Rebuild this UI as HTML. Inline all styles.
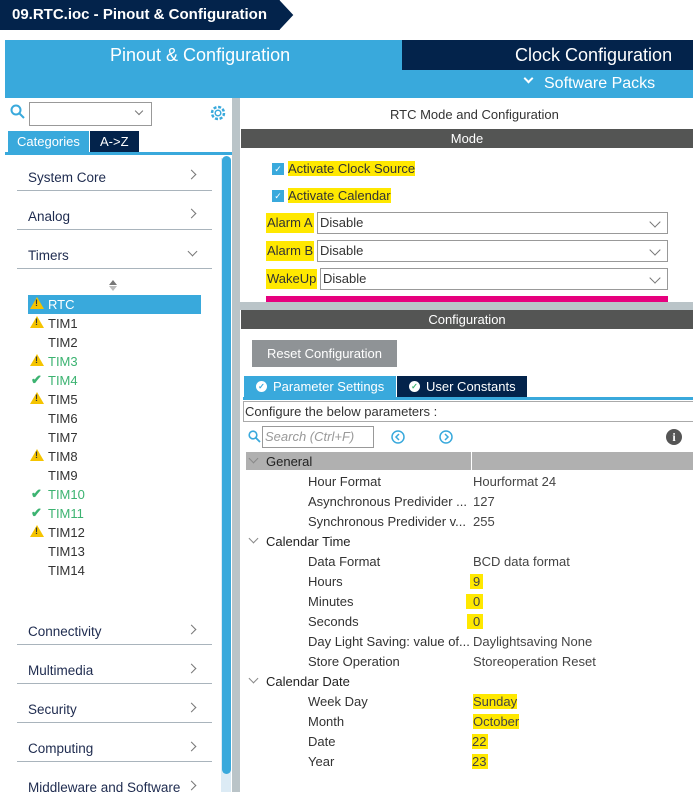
<!DOCTYPE html>
<html><head><meta charset="utf-8"><style>
*{margin:0;padding:0;box-sizing:border-box}
body{width:693px;height:792px;position:relative;overflow:hidden;background:#fff;font-family:"Liberation Sans",sans-serif;font-size:13px;color:#333}
.a{position:absolute;white-space:nowrap}
.cat{position:absolute;left:28px;font-size:13.5px;color:#1e2b4f}
.ln{position:absolute;left:17px;width:195px;height:1px;background:#a9b4bc}
.chev{position:absolute;left:188px;width:7px;height:7px;border-right:1.3px solid #777;border-top:1.3px solid #777;transform:rotate(45deg)}
.tim{position:absolute;left:48px;font-size:13px;color:#333}
.g{color:#3cb371}
.warn{position:absolute;left:30px;width:0;height:0;border-left:7px solid transparent;border-right:7px solid transparent;border-bottom:12px solid #f5c400}
.warn:after{content:"!";position:absolute;left:-2px;top:1px;font-size:9px;font-weight:bold;color:#333}
.ok{position:absolute;left:31px;color:#3cb371;font-size:13px;font-weight:bold}
.hl{background:#ffe800}
.lbl{position:absolute;left:308px;font-size:13px;color:#333}
.val{position:absolute;left:473px;font-size:13px;color:#444}
.sec{position:absolute;left:266px;font-size:13px;color:#222}
.sc{position:absolute;left:250px;width:7px;height:7px;border-right:1.2px solid #888;border-bottom:1.2px solid #888;transform:rotate(45deg)}
.sel{position:absolute;height:22px;border:1px solid #999;background:#fff;font-size:13px;padding:2px 2px;color:#333}
.sel:after{content:"";position:absolute;right:8px;top:5px;width:7px;height:7px;border-right:1.2px solid #777;border-bottom:1.2px solid #777;transform:rotate(45deg)}
.cb{position:absolute;left:272px;width:12px;height:12px;background:#39a9dc;color:#fff;font-size:9px;text-align:center;line-height:12px}
</style></head><body>
<!-- title -->
<div class="a" style="left:0;top:0;width:280px;height:30px;background:#03234b"></div>
<svg class="a" style="left:272px;top:0" width="22" height="30"><polygon points="0,0 8,0 22,15 8,30 0,30" fill="#03234b"/><polyline points="8,0 22,15 8,30" fill="none" stroke="#fff" stroke-width="1"/></svg>
<div class="a" style="left:12px;top:6px;color:#fff;font-size:15px;font-weight:bold">09.RTC.ioc - Pinout &amp; Configuration</div>
<!-- top band -->
<div class="a" style="left:5px;top:40px;width:688px;height:58px;background:#39a9dc"></div>
<div class="a" style="left:402px;top:40px;width:291px;height:30px;background:#03234b"></div>
<div class="a" style="left:110px;top:45px;color:#fff;font-size:18px">Pinout &amp; Configuration</div>
<div class="a" style="left:515px;top:45px;color:#fff;font-size:18px">Clock Configuration</div>
<div class="a" style="left:525px;top:75px;width:7px;height:7px;border-right:2px solid #fff;border-bottom:2px solid #fff;transform:rotate(45deg)"></div>
<div class="a" style="left:544px;top:75px;color:#fff;font-size:16px">Software Packs</div>
<!-- left panel -->
<div class="a" style="left:232px;top:98px;width:8px;height:694px;background:#bac4c8"></div>
<div class="a" style="left:0;top:98px;width:5px;height:694px;background:#fff"></div>
<svg class="a" style="left:10px;top:104px" width="16" height="16"><circle cx="6" cy="6" r="4.5" fill="none" stroke="#39a9dc" stroke-width="2"/><line x1="9.5" y1="9.5" x2="14" y2="14" stroke="#39a9dc" stroke-width="2"/></svg>
<div class="a" style="left:29px;top:102px;width:123px;height:24px;border:1px solid #999"></div>
<div class="a" style="left:136px;top:108px;width:6px;height:6px;border-right:1px solid #777;border-bottom:1px solid #777;transform:rotate(45deg)"></div>
<svg class="a" style="left:209px;top:104px" width="18" height="18"><circle cx="9" cy="9" r="6" fill="none" stroke="#39a9dc" stroke-width="2.5" stroke-dasharray="3 1.7"/><circle cx="9" cy="9" r="2.8" fill="none" stroke="#39a9dc" stroke-width="1.5"/></svg>
<div class="a" style="left:8px;top:131px;width:81px;height:21px;background:#39a9dc;color:#fff;font-size:13px;padding:3px 0 0 9px">Categories</div>
<div class="a" style="left:90px;top:131px;width:49px;height:21px;background:#03234b;color:#fff;font-size:13px;padding:3px 0 0 10px">A-&gt;Z</div>
<div class="a" style="left:5px;top:152px;width:227px;height:3px;background:#39a9dc"></div>
<div class="a" style="left:221px;top:158px;width:10px;height:634px;background:#dcebf5"></div>
<div class="a" style="left:222px;top:156px;width:9px;height:618px;background:#39a9dc;border-radius:5px"></div>
<div class="cat" style="top:170px">System Core</div><div class="chev" style="top:171px"></div><div class="ln" style="top:190px"></div>
<div class="cat" style="top:209px">Analog</div><div class="chev" style="top:210px"></div><div class="ln" style="top:229px"></div>
<div class="cat" style="top:248px">Timers</div><div class="a" style="left:189px;top:248px;width:7px;height:7px;border-right:1.2px solid #777;border-bottom:1.2px solid #777;transform:rotate(45deg)"></div><div class="ln" style="top:268px"></div>
<svg class="a" style="left:108px;top:280px" width="10" height="12"><polygon points="5,0 9,5 1,5" fill="#777"/><polygon points="5,11 9,6 1,6" fill="#bbb"/></svg>
<div class="a" style="left:28px;top:295px;width:173px;height:19px;background:#39a9dc"></div>
<div class="warn" style="top:297px"></div><div class="tim" style="top:297px;color:#fff">RTC</div>
<div class="warn" style="top:316px"></div><div class="tim" style="top:316px">TIM1</div>
<div class="tim" style="top:335px">TIM2</div>
<div class="warn" style="top:354px"></div><div class="tim g" style="top:354px">TIM3</div>
<div class="ok" style="top:372px">✔</div><div class="tim g" style="top:373px">TIM4</div>
<div class="warn" style="top:392px"></div><div class="tim" style="top:392px">TIM5</div>
<div class="tim" style="top:411px">TIM6</div>
<div class="tim" style="top:430px">TIM7</div>
<div class="warn" style="top:449px"></div><div class="tim" style="top:449px">TIM8</div>
<div class="tim" style="top:468px">TIM9</div>
<div class="ok" style="top:486px">✔</div><div class="tim g" style="top:487px">TIM10</div>
<div class="ok" style="top:505px">✔</div><div class="tim g" style="top:506px">TIM11</div>
<div class="warn" style="top:525px"></div><div class="tim" style="top:525px">TIM12</div>
<div class="tim" style="top:544px">TIM13</div>
<div class="tim" style="top:563px">TIM14</div>
<div class="cat" style="top:624px">Connectivity</div><div class="chev" style="top:626px"></div><div class="ln" style="top:644px"></div>
<div class="cat" style="top:663px">Multimedia</div><div class="chev" style="top:665px"></div><div class="ln" style="top:683px"></div>
<div class="cat" style="top:702px">Security</div><div class="chev" style="top:704px"></div><div class="ln" style="top:722px"></div>
<div class="cat" style="top:741px">Computing</div><div class="chev" style="top:743px"></div><div class="ln" style="top:761px"></div>
<div class="cat" style="top:780px">Middleware and Software</div><div class="chev" style="top:782px"></div>
<!-- right -->
<div class="a" style="left:390px;top:107px;color:#333;font-size:13px">RTC Mode and Configuration</div>
<div class="a" style="left:241px;top:129px;width:452px;height:19px;background:#545554;color:#fff;text-align:center;font-size:13px;padding-top:2px">Mode</div>
<div class="cb" style="top:163px">✓</div><div class="a hl" style="left:288px;top:161px;font-size:13px;color:#333">Activate Clock Source</div>
<div class="cb" style="top:190px">✓</div><div class="a hl" style="left:288px;top:188px;font-size:13px;color:#333">Activate Calendar</div>
<div class="a hl" style="left:266px;top:213px;height:20px;padding:2px 1px;font-size:13px;color:#333">Alarm A</div>
<div class="sel" style="left:317px;top:212px;width:351px">Disable</div>
<div class="a hl" style="left:266px;top:241px;height:20px;padding:2px 1px;font-size:13px;color:#333">Alarm B</div>
<div class="sel" style="left:317px;top:240px;width:351px">Disable</div>
<div class="a hl" style="left:266px;top:269px;height:20px;padding:2px 1px;font-size:13px;color:#333">WakeUp</div>
<div class="sel" style="left:320px;top:268px;width:348px">Disable</div>
<div class="a" style="left:266px;top:296px;width:402px;height:6px;background:#e6007e"></div>
<div class="a" style="left:240px;top:302px;width:453px;height:8px;background:#bac4c8"></div>
<div class="a" style="left:241px;top:310px;width:452px;height:19px;background:#545554;color:#fff;text-align:center;font-size:13px;padding-top:2px">Configuration</div>
<div class="a" style="left:252px;top:340px;width:145px;height:27px;background:#8f9396;color:#fff;font-size:13px;text-align:center;padding-top:6px">Reset Configuration</div>
<div class="a" style="left:244px;top:376px;width:152px;height:21px;background:#39a9dc;color:#fff;font-size:13px;padding:3px 0 0 29px">Parameter Settings</div>
<div class="a" style="left:397px;top:376px;width:130px;height:21px;background:#03234b;color:#fff;font-size:13px;padding:3px 0 0 29px">User Constants</div>
<div class="a" style="left:256px;top:381px;width:11px;height:11px;border-radius:50%;background:#fff;color:#39a9dc;font-size:8px;text-align:center;line-height:11px;font-weight:bold">✓</div>
<div class="a" style="left:409px;top:381px;width:11px;height:11px;border-radius:50%;background:#fff;color:#3cb371;font-size:8px;text-align:center;line-height:11px;font-weight:bold">✓</div>
<div class="a" style="left:243px;top:397px;width:450px;height:3px;background:#39a9dc"></div>
<div class="a" style="left:243px;top:401px;width:452px;height:21px;border:1px solid #aaa;font-size:13px;padding:2px 0 0 1px;color:#333">Configure the below parameters :</div>
<svg class="a" style="left:248px;top:430px" width="13" height="13"><circle cx="5" cy="5" r="3.8" fill="none" stroke="#39a9dc" stroke-width="1.6"/><line x1="8" y1="8" x2="12" y2="12" stroke="#39a9dc" stroke-width="1.8"/></svg>
<div class="a" style="left:262px;top:426px;width:112px;height:22px;border:1px solid #999;font-size:13px;font-style:italic;color:#999;padding:2px 2px">Search (Ctrl+F)</div>
<svg class="a" style="left:391px;top:430px" width="14" height="14"><circle cx="7" cy="7" r="6" fill="none" stroke="#39a9dc" stroke-width="1.5"/><polyline points="8,4 5,7 8,10" fill="none" stroke="#39a9dc" stroke-width="1.5"/></svg>
<svg class="a" style="left:439px;top:430px" width="14" height="14"><circle cx="7" cy="7" r="6" fill="none" stroke="#39a9dc" stroke-width="1.5"/><polyline points="6,4 9,7 6,10" fill="none" stroke="#39a9dc" stroke-width="1.5"/></svg>
<div class="a" style="left:666px;top:429px;width:16px;height:16px;border-radius:50%;background:#555;color:#fff;font-size:12px;font-weight:bold;text-align:center;line-height:16px;font-family:'Liberation Serif',serif">i</div>
<div class="a" style="left:246px;top:452px;width:225px;height:18px;background:#b0b0b0"></div>
<div class="a" style="left:472px;top:452px;width:221px;height:18px;background:#b0b0b0"></div>
<div class="sc" style="top:455px"></div><div class="sec" style="top:454px">General</div>
<div class="lbl" style="top:474px">Hour Format</div><div class="val" style="top:474px">Hourformat 24</div>
<div class="lbl" style="top:494px">Asynchronous Predivider ...</div><div class="val" style="top:494px">127</div>
<div class="lbl" style="top:514px">Synchronous Predivider v...</div><div class="val" style="top:514px">255</div>
<div class="sc" style="top:535px"></div><div class="sec" style="top:534px">Calendar Time</div>
<div class="lbl" style="top:554px">Data Format</div><div class="val" style="top:554px">BCD data format</div>
<div class="lbl" style="top:574px">Hours</div><div class="val hl" style="top:574px;left:470px;padding:0 3px">9</div>
<div class="lbl" style="top:594px">Minutes</div><div class="val hl" style="top:594px;left:466px;padding:0 3px 0 7px">0</div>
<div class="lbl" style="top:614px">Seconds</div><div class="val hl" style="top:614px;left:467px;padding:0 3px 0 6px">0</div>
<div class="lbl" style="top:634px">Day Light Saving: value of...</div><div class="val" style="top:634px">Daylightsaving None</div>
<div class="lbl" style="top:654px">Store Operation</div><div class="val" style="top:654px">Storeoperation Reset</div>
<div class="sc" style="top:675px"></div><div class="sec" style="top:674px">Calendar Date</div>
<div class="lbl" style="top:694px">Week Day</div><div class="val hl" style="top:694px">Sunday</div>
<div class="lbl" style="top:714px">Month</div><div class="val hl" style="top:714px">October</div>
<div class="lbl" style="top:734px">Date</div><div class="val hl" style="top:734px;left:472px;padding-right:2px">22</div>
<div class="lbl" style="top:754px">Year</div><div class="val hl" style="top:754px;left:472px;padding-right:2px">23</div>
</body></html>
